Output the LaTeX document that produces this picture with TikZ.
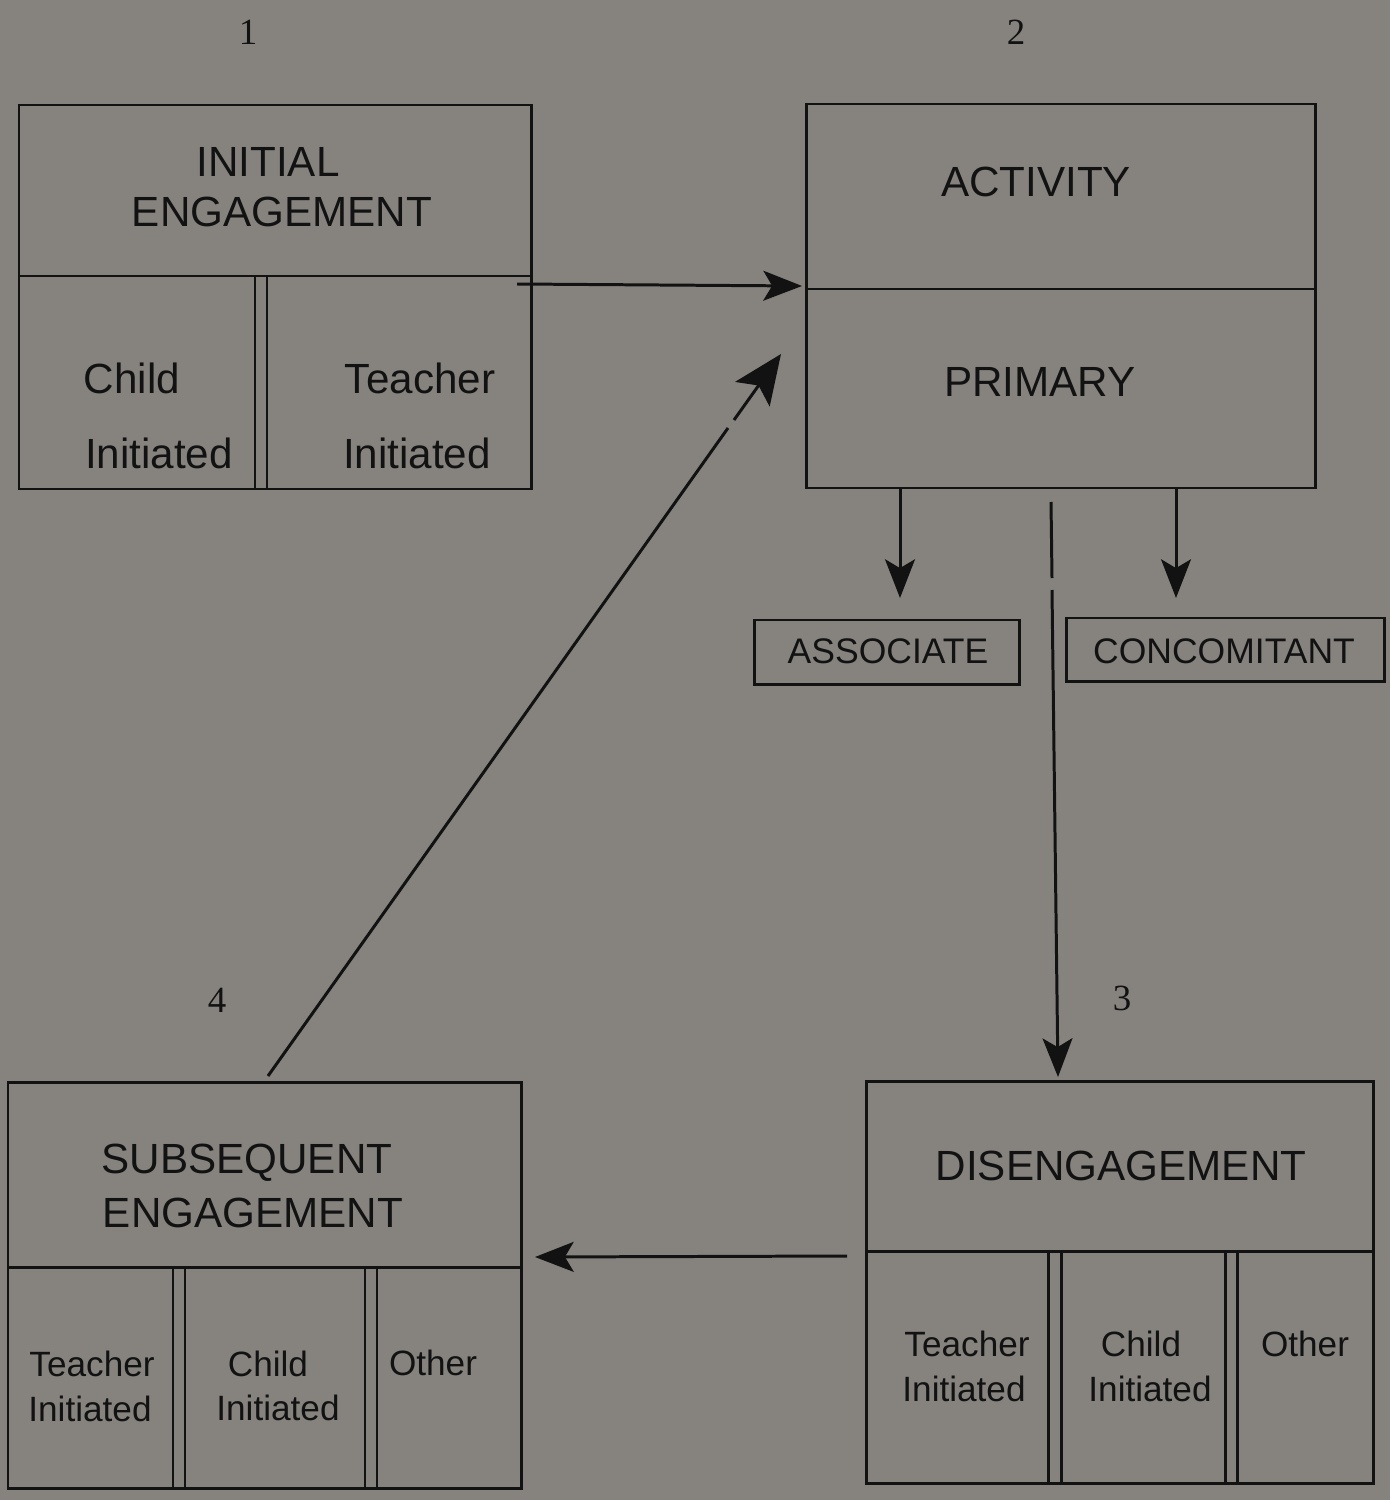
\documentclass[tikz,border=0pt]{standalone}
\usepackage{fontspec}
\setsansfont{Liberation Sans}
\setmainfont{Liberation Serif}
\usetikzlibrary{arrows.meta,fit}
\definecolor{bg}{RGB}{134,131,127}
\definecolor{ink}{RGB}{18,18,18}
\tikzset{
  boxst/.style={draw=ink, line width=0.85pt, inner sep=0pt},
  inner/.style={draw=ink, line width=0.85pt},
  big/.style={font=\sffamily\fontsize{12}{14}\selectfont, anchor=base, text=ink, inner sep=0pt},
  sml/.style={font=\sffamily\fontsize{10}{12}\selectfont, anchor=base, text=ink, inner sep=0pt},
  num/.style={font=\rmfamily\fontsize{10.5}{12}\selectfont, anchor=base, text=ink, inner sep=0pt},
  conn/.style={draw=ink, line width=0.85pt, -{Stealth[length=11pt,width=8.5pt,inset=2.5pt]}},
  bigconn/.style={draw=ink, line width=0.85pt, -{Stealth[length=14pt,width=12pt,inset=3pt]}},
  plain/.style={draw=ink, line width=0.85pt}
}
\begin{document}
\begin{tikzpicture}[x=0.01cm,y=-0.01cm]
\fill[bg] (0,0) rectangle (1390,1500);
\useasboundingbox (0,0) rectangle (1390,1500);

% numbers
\node[num] (n1) at (248,45) {1};
\node[num] (n2) at (1016,45) {2};
\node[num] (n3) at (1122,1010) {3};
\node[num] (n4) at (217,1012) {4};

% Box 1: initial engagement
\node[boxst, fit={(19,105) (531,489)}] (b1) {};
\draw[inner] (19,276) -- (531,276);
\draw[inner] (255,276) -- (255,489);
\draw[inner] (267,276) -- (267,489);
\node[big] (t1a) at (268,176) {INITIAL};
\node[big] (t1b) at (282,227) {ENGAGEMENT};
\node[big] (t1c) at (132,393) {Child};
\node[big] (t1d) at (159,468) {Initiated};
\node[big] (t1e) at (420,393) {Teacher};
\node[big] (t1f) at (417,468) {Initiated};

% Box 2: activity
\node[boxst, fit={(806,104) (1315,488)}] (b2) {};
\draw[inner] (806,289) -- (1315,289);
\node[big] (t2a) at (1036,196) {ACTIVITY};
\node[big] (t2b) at (1040,396) {PRIMARY};

% associate / concomitant
\node[boxst, fit={(754,620) (1019,684)}] (ba) {};
\node[sml, font=\sffamily\fontsize{10.1}{12}\selectfont] (ta) at (888,663) {ASSOCIATE};
\node[boxst, fit={(1066,618) (1384,681)}] (bc) {};
\node[sml, font=\sffamily\fontsize{10.1}{12}\selectfont] (tc) at (1224,663) {CONCOMITANT};

% Box 3: disengagement
\node[boxst, fit={(866,1081) (1373,1483)}] (b3) {};
\draw[inner] (866,1251) -- (1373,1251);
\draw[inner] (1048,1251) -- (1048,1483);
\draw[inner] (1061,1251) -- (1061,1483);
\draw[inner] (1225,1251) -- (1225,1483);
\draw[inner] (1237,1251) -- (1237,1483);
\node[big] (t3a) at (1121,1180) {DISENGAGEMENT};
\node[sml] (t3b) at (967,1356) {Teacher};
\node[sml] (t3c) at (964,1401) {Initiated};
\node[sml] (t3d) at (1141,1356) {Child};
\node[sml] (t3e) at (1150,1401) {Initiated};
\node[sml] (t3f) at (1305,1356) {Other};

% Box 4: subsequent engagement
\node[boxst, fit={(8,1082) (521,1488)}] (b4) {};
\draw[inner] (8,1267) -- (521,1267);
\draw[inner] (173,1267) -- (173,1488);
\draw[inner] (185,1267) -- (185,1488);
\draw[inner] (365,1267) -- (365,1488);
\draw[inner] (377,1267) -- (377,1488);
\node[big] (t4a) at (247,1173) {SUBSEQUENT};
\node[big] (t4b) at (253,1227) {ENGAGEMENT};
\node[sml] (t4c) at (92,1376) {Teacher};
\node[sml] (t4d) at (90,1421) {Initiated};
\node[sml] (t4e) at (268,1376) {Child};
\node[sml] (t4f) at (278,1420) {Initiated};
\node[sml] (t4g) at (433,1375) {Other};

% connector coordinates
\coordinate (a1s) at (517,284);
\coordinate (a1e) at (802,286);
\coordinate (a2s) at (268,1076);
\coordinate (a2m) at (728,428);
\coordinate (a2n) at (734,420);
\coordinate (a2e) at (781,354);
\coordinate (a3s) at (900,488);
\coordinate (a3e) at (900,598);
\coordinate (a4s) at (1176,488);
\coordinate (a4e) at (1176,598);
\coordinate (a5s) at (1051,502);
\coordinate (a5m) at (1052,578);
\coordinate (a5n) at (1052,590);
\coordinate (a5e) at (1058,1077);
\coordinate (a6s) at (847,1256);
\coordinate (a6e) at (535,1257);

\draw[conn] (a1s) -- (a1e);
\draw[plain] (a2s) -- (a2m);
\draw[bigconn] (a2n) -- (a2e);
\draw[conn] (a3s) -- (a3e);
\draw[conn] (a4s) -- (a4e);
\draw[plain] (a5s) -- (a5m);
\draw[conn] (a5n) -- (a5e);
\draw[conn] (a6s) -- (a6e);
\end{tikzpicture}
\end{document}
